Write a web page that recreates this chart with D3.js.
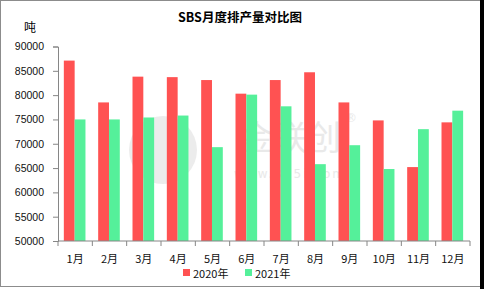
<!DOCTYPE html>
<html>
<head>
<meta charset="utf-8">
<script src="https://cdn.jsdelivr.net/npm/d3@7"></script>
<style>
    body { margin: 0; background: #fff; }
    svg { display: block; font-family: "DejaVu Sans", "Noto Sans CJK SC", sans-serif; }
</style>
</head>
<body>
<svg id="chart" width="484" height="289"></svg>
<script>
// Chart data
let months = ["1月", "2月", "3月", "4月", "5月", "6月", "7月", "8月", "9月", "10月", "11月", "12月"];
let seriesNames = ["2020年", "2021年"];
let values2020 = [87100, 78500, 83800, 83700, 83100, 80300, 83100, 84700, 78500, 74800, 65200, 74400];
let values2021 = [75000, 75000, 75400, 75800, 69300, 80100, 77700, 65800, 69700, 64800, 73000, 76800];
let yTicks = [50000, 55000, 60000, 65000, 70000, 75000, 80000, 85000, 90000];
let colors = ["#FF5252", "#55F09A"];

let svg = d3.select("#chart");

// Outer frame
svg.append("rect")
    .attr("x", 0.5).attr("y", 0.5)
    .attr("width", 480).attr("height", 286)
    .attr("fill", "#fff")
    .attr("stroke", "#8c8c8c");
svg.append("rect")
    .attr("x", 480).attr("y", 0)
    .attr("width", 4).attr("height", 289)
    .attr("fill", "#000");

// Plot area
let plot = {left: 58, right: 470, top: 46.5, bottom: 241};

let x0 = d3.scaleBand()
    .domain(months)
    .range([plot.left, plot.right]);

let x1 = d3.scaleBand()
    .domain(seriesNames)
    .range([x0.bandwidth() * 0.17, x0.bandwidth() * 0.8]);

let y = d3.scaleLinear()
    .domain([50000, 90000])
    .range([plot.bottom, plot.top]);

// Watermark
let wm = svg.append("g").attr("fill", "#e9e9e9");
wm.append("circle").attr("cx", 163).attr("cy", 150).attr("r", 34).attr("fill", "#ececec");
wm.append("text")
    .attr("x", 290).attr("y", 150)
    .attr("text-anchor", "middle")
    .attr("font-size", "34px")
    .attr("font-family", "Noto Sans CJK SC")
    .text("金联创");
wm.append("text")
    .attr("x", 345).attr("y", 122)
    .attr("font-size", "12px")
    .text("®");
wm.append("text")
    .attr("x", 290).attr("y", 178)
    .attr("text-anchor", "middle")
    .attr("font-size", "12px")
    .attr("letter-spacing", "2px")
    .text("www.315i.com");

// Title
svg.append("text")
    .attr("x", 240).attr("y", 22)
    .attr("text-anchor", "middle")
    .attr("font-size", "12.5px")
    .attr("font-weight", "bold")
    .attr("font-family", "\"Noto Sans CJK SC\", sans-serif")
    .text("SBS月度排产量对比图");

// Unit label
svg.append("text")
    .attr("x", 30).attr("y", 32)
    .attr("text-anchor", "middle")
    .attr("font-size", "12px")
    .attr("font-family", "\"Noto Sans CJK SC\", sans-serif")
    .text("吨");

// Bars
let data = months.map((m, i) => ({month: m, vals: [values2020[i], values2021[i]]}));

let groups = svg.append("g")
    .selectAll("g")
    .data(data)
    .join("g")
    .attr("transform", d => "translate(" + x0(d.month) + ",0)");

groups.selectAll("rect")
    .data(d => d.vals.map((v, k) => ({name: seriesNames[k], value: v, k: k})))
    .join("rect")
    .attr("x", d => x1(d.name))
    .attr("y", d => y(d.value))
    .attr("width", x1.bandwidth())
    .attr("height", d => y(50000) - y(d.value))
    .attr("fill", d => colors[d.k]);

// Y axis
let yAxis = svg.append("g")
    .attr("transform", "translate(" + plot.left + ",0)")
    .call(d3.axisLeft(y).tickValues(yTicks).tickSize(5).tickPadding(9).tickFormat(d3.format("d")));
yAxis.selectAll("line, path").attr("stroke", "#868686");
yAxis.selectAll("text").attr("font-size", "10.5px").attr("fill", "#111");

// X axis, ticks on category boundaries
let xAxis = svg.append("g")
    .attr("transform", "translate(0," + plot.bottom + ")");
xAxis.append("line")
    .attr("x1", plot.left).attr("x2", plot.right)
    .attr("stroke", "#868686");
xAxis.selectAll("line.tick")
    .data(months.concat(["end"]))
    .join("line")
    .attr("class", "tick")
    .attr("x1", (d, i) => plot.left + i * x0.step())
    .attr("x2", (d, i) => plot.left + i * x0.step())
    .attr("y1", 0).attr("y2", 5)
    .attr("stroke", "#868686");
xAxis.selectAll("text")
    .data(months)
    .join("text")
    .attr("x", d => x0(d) + x0.bandwidth() / 2)
    .attr("y", 22)
    .attr("text-anchor", "middle")
    .attr("font-size", "11px")
    .attr("font-family", "\"Noto Sans CJK SC\", sans-serif")
    .attr("fill", "#111")
    .text(d => d);

// Legend
let legend = svg.append("g");
let legendX = [183, 245];
seriesNames.forEach((name, k) => {
    legend.append("rect")
        .attr("x", legendX[k]).attr("y", 269)
        .attr("width", 7).attr("height", 7)
        .attr("fill", colors[k]);
    legend.append("text")
        .attr("x", legendX[k] + 10).attr("y", 278)
        .attr("font-size", "11px")
        .attr("font-family", "\"Noto Sans CJK SC\", sans-serif")
        .attr("fill", "#111")
        .text(name);
});
</script>
</body>
</html>
